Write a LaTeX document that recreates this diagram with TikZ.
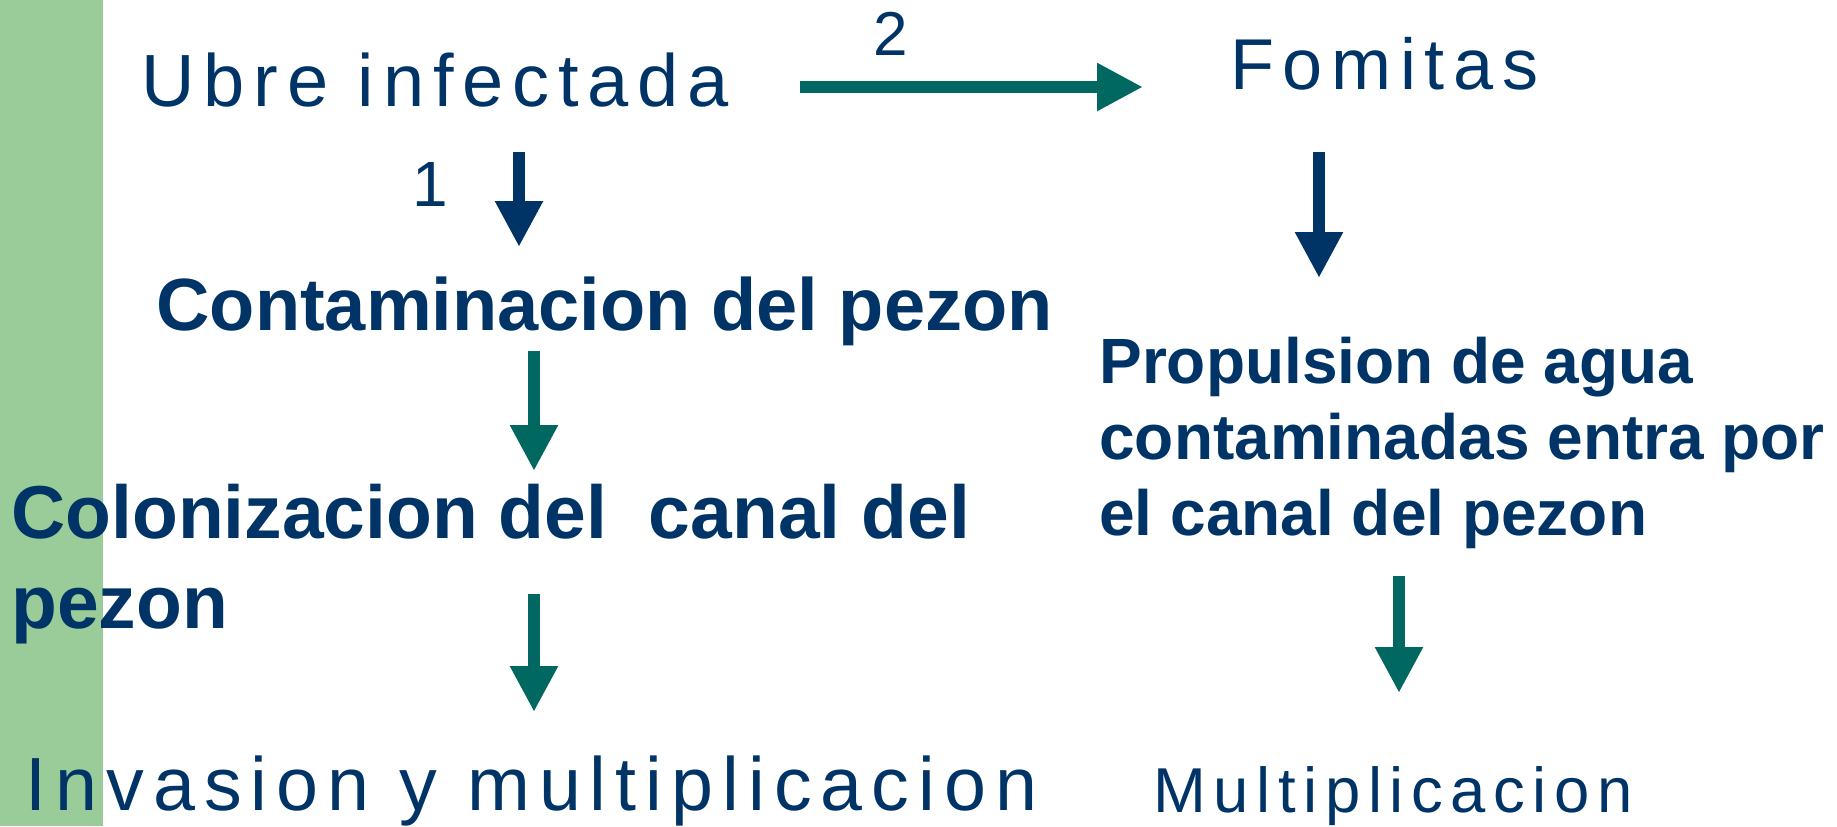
\documentclass[tikz,border=0pt]{standalone}
\usepackage{fontspec}
\setmainfont{Liberation Sans}
\newfontfamily\spacedfont[LetterSpace=12]{Liberation Sans}
\usetikzlibrary{arrows.meta}
\definecolor{navyblue}{RGB}{0,51,102}
\definecolor{tealgreen}{RGB}{0,104,96}
\definecolor{bargreen}{RGB}{153,204,153}

\begin{document}
\begin{tikzpicture}[x=0.5pt,y=-0.5pt,
  plain/.style={anchor=base west,inner sep=0pt,text=navyblue,font=\spacedfont\fontsize{#1}{#1}\selectfont},
  heavy/.style 2 args={anchor=base west,inner sep=0pt,text=navyblue,align=left,font=\bfseries\fontsize{#1}{#2}\selectfont},
  flow/.style={line width=6pt,-{Triangle[length=23pt,width=22.5pt]}},
  navyflow/.style={flow,draw=navyblue,fill=navyblue},
  tealflow/.style={flow,draw=tealgreen,fill=tealgreen}]
%%
\useasboundingbox (0,0) rectangle (1837,826);
\fill [bargreen] (0,0) rectangle (103,826);
%%
\node (ubre) at (141,106) [plain=37] {Ubre infectada};
  \node (fomitas) at (1230,89) [plain=36] {Fomitas};
  \node (num_2) at (873,55) [plain=31] {2};
  \node (num_1) at (412,206) [plain=32] {1};
  \node (contam) at (156,330) [heavy={37}{44}] {Contaminacion del pezon};
  \node (propul) at (1099,535) [heavy={32}{38}] {Propulsion de agua\\contaminadas entra por\\el canal del pezon};
  \node (coloni) at (11,628) [heavy={37.5}{45}] {Colonizacion del\ \ canal del\\pezon};
  \node (invas) at (25,810) [plain=37.7] {Invasion y multiplicacion};
  \node (multi) at (1153,812) [plain=31.7] {Multiplicacion};
%%
\coordinate (ubre_r) at (800,87);
  \coordinate (fomitas_l) at (1143,87);
  \coordinate (ubre_d) at (519,152);
  \coordinate (contam_u) at (519,247);
  \coordinate (fomitas_d) at (1319,152);
  \coordinate (propul_u) at (1319,278);
  \coordinate (contam_d) at (534,351);
  \coordinate (coloni_u) at (534,471);
  \coordinate (coloni_d) at (534,594);
  \coordinate (invas_u) at (534,712);
  \coordinate (propul_d) at (1399,576);
  \coordinate (multi_u) at (1399,693);
%%
\draw [tealflow] (ubre_r) -- (fomitas_l);
  \draw [navyflow] (ubre_d) -- (contam_u);
  \draw [navyflow] (fomitas_d) -- (propul_u);
  \draw [tealflow] (contam_d) -- (coloni_u);
  \draw [tealflow] (coloni_d) -- (invas_u);
  \draw [tealflow] (propul_d) -- (multi_u);
%
\end{tikzpicture}
\end{document}
